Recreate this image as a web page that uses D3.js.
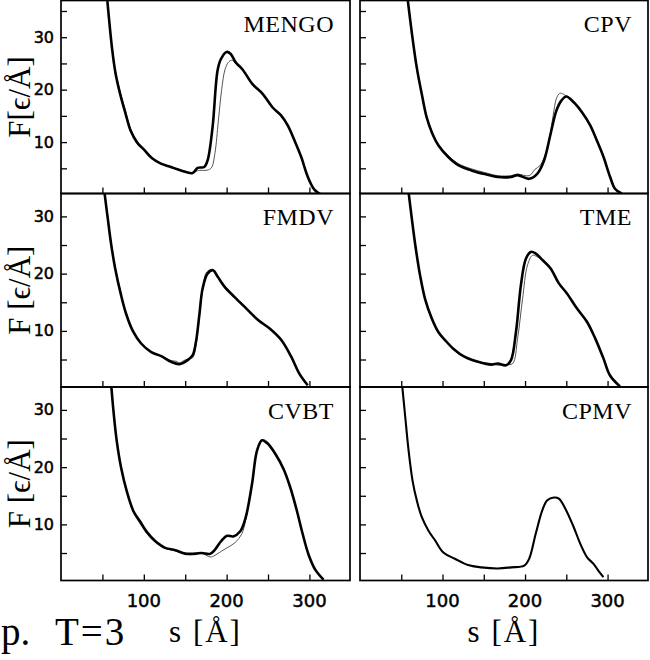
<!DOCTYPE html>
<html><head><meta charset="utf-8">
<script src="https://cdn.jsdelivr.net/npm/d3@7"></script>
<style>body{margin:0;background:#fff}svg{display:block}</style>
</head><body>
<svg id="c" width="650" height="660"></svg>
<script>
// ---- data: [s (Å), F (ε/Å)] ----
const panelNames = ["MENGO", "CPV", "FMDV", "TME", "CVBT", "CPMV"];
const xTicks = [50, 100, 150, 200, 250, 300];
const xTickLabels = [100, 200, 300];
const yTicksTop = [5, 10, 15, 20, 25, 30, 35];
const yTicksOther = [5, 10, 15, 20, 25, 30];
const yTickLabels = [10, 20, 30];
const yTitles = ["F[ϵ/Å]", "F [ϵ/Å]", "F [ϵ/Å]"];

const mengoMain = [[56,36.9],[62,27.4],[66,23],[71.4,19.2],[78,15.4],[84,12.2],[92,9.9],[100,8.6],[110,6.9],[120.6,5.9],[132.7,5.25],[145,4.6],[159,4.1],[165,5.1],[173,5.25],[177,6.5],[183,12.8],[189,23.6],[193,25.8],[200,27.2],[205,26.8],[211,25.2],[219,23.9],[231,21.1],[243.5,19.2],[255.6,16.6],[265.7,15.1],[273.8,13.2],[282,10.3],[290,7.2],[298,3.4],[306,0.95],[314,0]];
const mengoAlt = [[56,36.9],[62,27.6],[66,23.3],[71.4,19.6],[78,15.9],[84,12.6],[92,10.1],[100,8.7],[110,6.9],[120.6,5.9],[132.7,5.2],[145,4.5],[159,4.2],[166,4.6],[172,4.6],[178,4.7],[182,5.2],[186,8],[190,14],[194,20],[198,23.8],[202,25.2],[206,25.6],[210,25.2],[213,24.6],[219,23.9],[231,21.1],[243.5,19.2],[255.6,16.6],[265.7,15.1],[273.8,13.2],[282,10.3],[290,7.2],[298,3.4],[306,0.95],[314,0]];

const cpvMain = [[58,36.9],[63,30.6],[68.8,24.2],[74.8,19.2],[80.8,14.7],[87.7,11.6],[94.9,9.4],[107,7.15],[119,5.6],[135,4.6],[151,3.9],[167,3.35],[183,3.35],[191,3.7],[205,3.0],[215,4.0],[223,6.5],[231,11.6],[238,16],[244,17.9],[250,18.7],[259,17.6],[269,15.7],[279,13.2],[287,10.3],[295,7.2],[303,3.4],[309,1.1],[317,0.2]];
const cpvAlt = [[58,36.9],[63,30.6],[68.8,24.2],[74.8,19.2],[80.8,14.9],[87.7,11.8],[94.9,9.6],[107,7.4],[119,5.9],[135,4.9],[151,4.2],[167,3.6],[183,3.6],[191,3.9],[205,3.6],[212,4.8],[218,5.5],[223,7],[229,10.3],[234,15],[238,18.3],[242,19.3],[247,19.1],[253,18.3],[259,17.6],[269,15.7],[279,13.2],[287,10.3],[295,7.2],[303,3.4],[309,1.1],[317,0.2]];

const fmdvMain = [[52.4,34.3],[56.5,29.6],[60.5,25.2],[65.3,21],[72.6,16.2],[78.6,13],[86.7,10],[96.8,7.8],[109,6.3],[121,5.6],[133,4.6],[143,4.2],[153,4.9],[159,5.75],[163,8.1],[167,12.7],[171,17.4],[177,20],[183.5,20.6],[189.5,19.4],[197.6,17.7],[209.7,15.9],[223.8,13.9],[238,11.9],[252,10.4],[266,8.4],[278,5.5],[288,2.5],[298,0.5]];
const fmdvAlt = [[52.4,34.3],[56.5,29.6],[60.5,25.3],[65.3,21.2],[72.6,16.5],[78.6,13.1],[86.7,10.1],[96.8,7.8],[109,6.3],[121,5.6],[133,4.8],[139,4.7],[143,4.4],[148,4.8],[153,5.1],[159,5.3],[163,7.5],[167,12.3],[171,17.2],[176,20.3],[183,20.7],[189,19.6],[193,18.5],[197.6,17.9],[209.7,15.9],[223.8,14.1],[228,13.2],[238,11.9],[252,10.4],[266,8.4],[278,5.5],[288,2.5],[298,0.5]];

const tmeMain = [[58.8,34.3],[62.8,29.6],[67.6,24.4],[72.8,19.7],[78.8,15.6],[86.9,12.2],[94.9,9.8],[103,8.4],[113,6.9],[127,5.45],[143,4.6],[159,4.1],[167,4.3],[177,4.0],[183,4.9],[189,9.8],[195,18],[201,22.6],[207,23.8],[213,23.5],[221,22.4],[231,20.9],[241,18.3],[251,16.5],[263,13.9],[275,11.6],[285,8.7],[295,5.2],[303,2.2],[315,0.3]];
const tmeAlt = [[58.8,34.3],[62.8,29.6],[67.6,24.4],[72.8,19.7],[78.8,15.6],[86.9,12.0],[94.9,9.7],[103,8.3],[113,6.8],[127,5.4],[143,4.5],[159,4.3],[167,4.0],[177,4.1],[185,4.3],[191,8.7],[197,15.6],[203,21.5],[209,23.2],[214,23.0],[221,22.4],[231,20.9],[241,18.3],[251,16.5],[263,13.9],[275,11.6],[285,8.7],[295,5.2],[303,2.2],[315,0.3]];

const cvbtMain = [[60.5,34.6],[63.3,29.9],[67.3,24.6],[72.6,19.9],[79.4,15.8],[87.5,12.3],[95.6,10.5],[103.6,8.7],[113.7,7.1],[125.8,5.9],[138,5.5],[150,4.9],[162,4.9],[170,5.0],[180,4.85],[186,5.6],[193.5,7.1],[200.4,8.0],[208,7.9],[216.5,8.8],[223,11.2],[230.6,17],[236.7,22.9],[242.7,24.7],[248.8,24.2],[258.9,22.3],[269,19.6],[277,16.4],[285,12.3],[291,8.8],[299,4.7],[307,2.1],[317,0.35]];
const cvbtAlt = [[60.5,34.6],[63.3,29.9],[67.3,24.6],[72.6,19.9],[79.4,15.8],[87.5,12.1],[95.6,10.1],[103.6,8.4],[113.7,6.9],[125.8,5.8],[138,5.4],[150,4.8],[162,4.7],[170,5.0],[180,4.3],[186,4.6],[193.5,5.3],[200.4,5.9],[210,6.8],[218.5,8.4],[223,10.8],[230.6,16.8],[236.7,22.8],[242.7,24.8],[248.8,24.5],[258.9,22.5],[269,19.6],[277,16.4],[285,12.3],[291,8.8],[299,4.7],[307,2.1],[317,0.35]];

const cpmvMain = [[50.8,34.7],[54.8,28.8],[58.8,23],[63.6,17.7],[68.8,14.2],[74.8,11.3],[83,8.9],[91,7.2],[101,5.1],[115,4.0],[131,2.9],[147,2.5],[167,2.3],[183,2.5],[199,2.8],[205,4.0],[213,8.4],[221,12.5],[227,14.2],[235,14.7],[241,14.5],[249,12.7],[259,9.5],[267,6.6],[275,4.3],[283,3.1],[289,1.9],[295,0.8]];

const panelMain = [mengoMain, cpvMain, fmdvMain, tmeMain, cvbtMain, cpmvMain];
const panelAlt = [mengoAlt, cpvAlt, fmdvAlt, tmeAlt, cvbtAlt, null];

// ---- layout ----
const cols = [[61, 350], [360, 648]];
const rows = [[0.5, 193.5, 37], [193.5, 387, 34], [387, 580.5, 34]];
const xDomain = [0, 349];
const yBottom = 0.2;
const serif = "'Liberation Serif', 'Times New Roman', serif";
const sans = "'DejaVu Sans', sans-serif";

const svg = d3.select("#c");
const defs = svg.append("defs");

panelNames.forEach((name, i) => {
  const c = i % 2, r = Math.floor(i / 2);
  const [x0, x1] = cols[c];
  const [y0, y1, yTop] = rows[r];
  const x = d3.scaleLinear().domain(xDomain).range([x0, x1]);
  const y = d3.scaleLinear().domain([yBottom, yTop]).range([y1, y0]);
  const g = svg.append("g");

  defs.append("clipPath").attr("id", "clip" + i)
    .append("rect").attr("x", x0).attr("y", y0).attr("width", x1 - x0).attr("height", y1 - y0);

  const line = d3.line().x(d => x(d[0])).y(d => y(d[1])).curve(d3.curveCatmullRom.alpha(0.5));
  const cg = g.append("g").attr("clip-path", `url(#clip${i})`);
  if (panelAlt[i]) {
    cg.append("path").datum(panelAlt[i]).attr("d", line)
      .attr("fill", "none").attr("stroke", "#555").attr("stroke-width", 1);
  }
  cg.append("path").datum(panelMain[i]).attr("d", line)
    .attr("fill", "none").attr("stroke", "#000")
    .attr("stroke-width", panelAlt[i] ? 2.6 : 2.1).attr("stroke-linejoin", "round");

  // ticks (inside)
  const yt = r === 0 ? yTicksTop : yTicksOther;
  const ax = g.append("g").attr("transform", `translate(0,${y1})`)
    .call(d3.axisTop(x).tickValues(xTicks).tickSize(6).tickFormat(""));
  ax.select(".domain").remove();
  ax.selectAll("line").attr("stroke", "#000").attr("stroke-width", 1.3);
  const ay = g.append("g").attr("transform", `translate(${x0},0)`)
    .call(d3.axisRight(y).tickValues(yt).tickSize(6).tickFormat(""));
  ay.select(".domain").remove();
  ay.selectAll("line").attr("stroke", "#000").attr("stroke-width", 1.3);

  // frame
  g.append("rect").attr("x", x0).attr("y", y0).attr("width", x1 - x0).attr("height", y1 - y0)
    .attr("fill", "none").attr("stroke", "#000").attr("stroke-width", 1.7);

  // panel label
  g.append("text").attr("x", x1 - 16).attr("y", y0 + 31.5)
    .attr("text-anchor", "end").attr("font-family", serif)
    .attr("font-size", 24).attr("letter-spacing", 0.5).text(name);

  if (c === 0) {
    yTickLabels.forEach(v => {
      g.append("text").attr("x", 54).attr("y", y(v) + 5.5).attr("text-anchor", "end")
        .attr("font-family", sans).attr("font-size", 16)
        .attr("stroke", "#000").attr("stroke-width", 0.5)
        .text(v);
    });
    g.append("text")
      .attr("transform", `translate(30,${(y0 + y1) / 2}) rotate(-90)`)
      .attr("text-anchor", "middle")
      .attr("font-family", serif)
      .attr("font-size", 31).text(yTitles[r]);
  }
  if (r === 2) {
    xTickLabels.forEach(v => {
      g.append("text").attr("x", x(v)).attr("y", 607).attr("text-anchor", "middle")
        .attr("font-family", sans).attr("font-size", 18)
        .attr("stroke", "#000").attr("stroke-width", 0.5)
        .text(v);
    });
    g.append("text").attr("x", (x0 + x1) / 2).attr("y", 642).attr("text-anchor", "middle")
      .attr("font-family", serif)
      .attr("font-size", 31).attr("letter-spacing", 2).text("s [Å]");
  }
});

svg.append("text").attr("x", 1).attr("y", 645)
  .attr("font-family", serif).attr("font-size", 39).text("p.");
svg.append("text").attr("x", 55).attr("y", 645)
  .attr("font-family", serif).attr("font-size", 39)
  .attr("letter-spacing", 2).text("T=3");
</script>
</body></html>
